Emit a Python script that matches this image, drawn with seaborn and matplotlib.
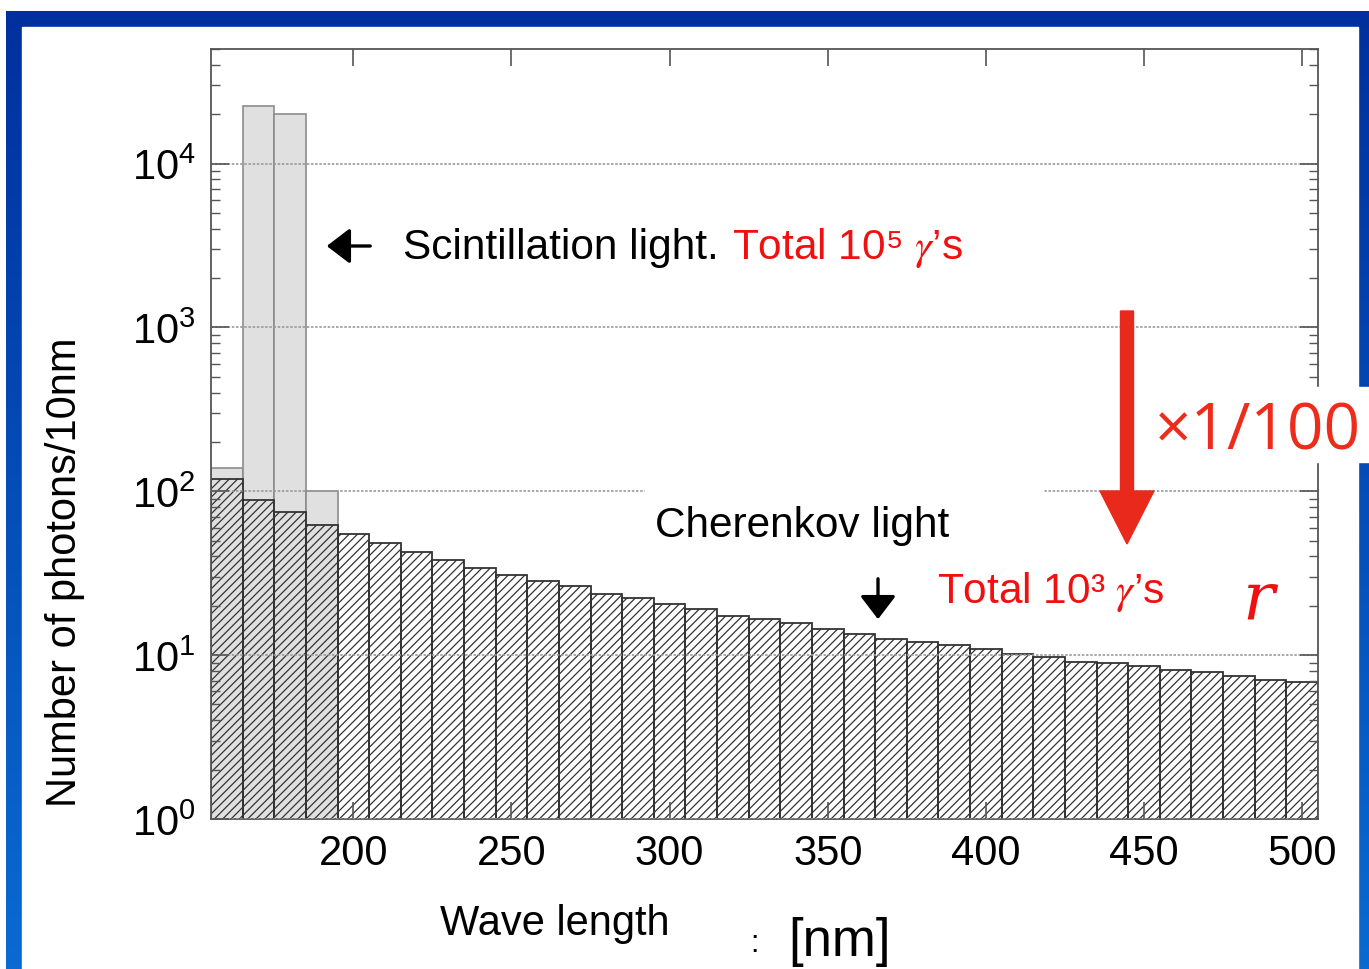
import matplotlib
matplotlib.use("Agg")
import matplotlib.pyplot as plt
import numpy as np
import seaborn as sns
from matplotlib.patches import Rectangle, FancyArrow
from matplotlib.transforms import IdentityTransform
from matplotlib.colors import LinearSegmentedColormap
from matplotlib.ticker import LogLocator, NullFormatter

W, H = 1369, 970

# 10 nm bins, 155 - 505 nm
bin_edges = [155, 165, 175, 185, 195, 205, 215, 225, 235, 245, 255, 265, 275,
             285, 295, 305, 315, 325, 335, 345, 355, 365, 375, 385, 395, 405,
             415, 425, 435, 445, 455, 465, 475, 485, 495, 505]
wavelength = [160, 170, 180, 190, 200, 210, 220, 230, 240, 250, 260, 270, 280,
              290, 300, 310, 320, 330, 340, 350, 360, 370, 380, 390, 400, 410,
              420, 430, 440, 450, 460, 470, 480, 490, 500]
# photons per 10 nm
cherenkov = [118, 89, 74.5, 62, 54.7, 48.2, 42.6, 37.9, 34.1, 30.9, 28.5, 26.3,
             23.7, 22.2, 20.4, 19.0, 17.4, 16.6, 15.6, 14.5, 13.5, 12.6, 12.1,
             11.5, 10.9, 10.1, 9.7, 9.1, 8.9, 8.57, 8.1, 7.9, 7.45, 7.04, 6.85]
scintillation = [138, 22300, 20200, 100, 0, 0, 0, 0, 0, 0, 0, 0, 0, 0, 0, 0, 0,
                 0, 0, 0, 0, 0, 0, 0, 0, 0, 0, 0, 0, 0, 0, 0, 0, 0, 0]
x_ticks = [200, 250, 300, 350, 400, 450, 500]

sns.set_theme(style="ticks")
plt.rcParams['font.family'] = ['Liberation Sans', 'DejaVu Sans']
plt.rcParams['text.color'] = 'black'
plt.rcParams['hatch.color'] = '#333333'
plt.rcParams['hatch.linewidth'] = 0.9

fig = plt.figure(figsize=(W / 100, H / 100), dpi=100)

# blue slide frame in the background
bg = fig.add_axes([0, 0, 1, 1], zorder=-5)
frame_cmap = LinearSegmentedColormap.from_list('frame', ['#00309e', '#0a6ad2'])
bg.imshow(np.linspace(0, 1, 256).reshape(-1, 1), cmap=frame_cmap,
          extent=(6, W, H, 12), aspect='auto')
bg.add_patch(Rectangle((22, 28), 1336, H, color='white'))
bg.set_xlim(0, W)
bg.set_ylim(H, 0)
bg.axis('off')

ax = fig.add_axes([211 / W, 1 - 820 / H, (1318 - 211) / W, (820 - 50) / H])
ax.set_facecolor('white')

sns.histplot(x=wavelength, weights=scintillation, bins=bin_edges, ax=ax,
             color='#e0e0e0', edgecolor='#8c8c8c', linewidth=1.2, alpha=1)
sns.histplot(x=wavelength, weights=cherenkov, bins=bin_edges, ax=ax,
             fill=False, color='#333333', hatch='////', linewidth=1.3)

ax.set_yscale('log')
ax.set_xlim(155, 505)
ax.set_ylim(1, 5e4)
ax.set_xticks(x_ticks)
ax.yaxis.set_major_locator(LogLocator(base=10, numticks=10))
ax.yaxis.set_minor_locator(LogLocator(base=10, subs=np.arange(2, 10), numticks=30))
ax.yaxis.set_minor_formatter(NullFormatter())
ax.tick_params(axis='both', which='both', direction='in', top=True, right=True,
               color='#555555', labelcolor='black')
ax.tick_params(axis='x', which='major', length=12, width=1.2, pad=10, labelsize=30)
ax.tick_params(axis='x', which='minor', bottom=False, top=False)
ax.tick_params(axis='y', which='major', length=13, width=1.2, pad=11, labelsize=30)
ax.tick_params(axis='y', which='minor', length=6.5, width=1.0)
ax.grid(True, axis='y', which='major', color='#9a9a9a', linestyle=(0, (1.5, 1)), linewidth=1.2)
ax.set_axisbelow(False)
for s in ax.spines.values():
    s.set_color('#555555')
    s.set_linewidth(1.3)
ax.set_xlabel('')
ax.set_ylabel('')

# axis labels
fig.text(65 / W, 1 - 572 / H, 'Number of photons/10nm', rotation=90,
         ha='center', va='center', fontsize=30)
fig.text(440 / W, 1 - 935 / H, 'Wave length', ha='left', va='baseline', fontsize=30)
fig.text(750 / W, 1 - 952 / H, ':', ha='left', va='baseline', fontsize=22)
fig.text(788 / W, 1 - 956 / H, '[nm]', ha='left', va='baseline', fontsize=38)

# annotations
red = '#f01010'
arrow_style = dict(arrowstyle='-|>,head_length=0.55,head_width=0.42',
                   color='black', lw=2.4, mutation_scale=26)
fig.text(403 / W, 1 - 259 / H, 'Scintillation light.', va='baseline', fontsize=30.5)
fig.text(732 / W, 1 - 259 / H, "Total 10⁵ $\\gamma$’s", va='baseline',
         fontsize=30.5, color=red, math_fontfamily='stix')
ax.annotate('', xy=(324, H - 247), xytext=(373, H - 247),
            xycoords='figure pixels', textcoords='figure pixels',
            arrowprops=arrow_style)

white_box = Rectangle((645, H - 560), 1043 - 645, 560 - 485, color='white',
                      transform=IdentityTransform(), zorder=2)
fig.add_artist(white_box)
fig.text(655 / W, 1 - 537 / H, 'Cherenkov light', va='baseline', fontsize=30.5, zorder=3)
ax.annotate('', xy=(878, H - 623), xytext=(878, H - 577),
            xycoords='figure pixels', textcoords='figure pixels',
            arrowprops=arrow_style)
fig.text(937 / W, 1 - 603 / H, "Total 10³ $\\gamma$’s", va='baseline',
         fontsize=30.5, color=red, math_fontfamily='stix')
fig.text(1242 / W, 1 - 620 / H, 'r', fontsize=48, color=red, style='italic',
         family=['DejaVu Serif'], va='baseline')

# x1/100 scaling arrow
big_arrow = FancyArrow(1127, H - 312, 0, -(545 - 312), width=13, head_width=54,
                       head_length=53, length_includes_head=True, color='#e8291b',
                       transform=IdentityTransform(), zorder=4)
fig.add_artist(big_arrow)
scale_box = Rectangle((1150, H - 463), W - 1150, 463 - 388, color='white',
                      transform=IdentityTransform(), zorder=5)
fig.add_artist(scale_box)
fig.text(1155 / W, 1 - 449 / H, '×1/100', va='baseline', fontsize=46,
         color='#ee2c1c', family=['Open Sans', 'DejaVu Sans'], zorder=6)

fig.savefig('out.png', dpi=100)
